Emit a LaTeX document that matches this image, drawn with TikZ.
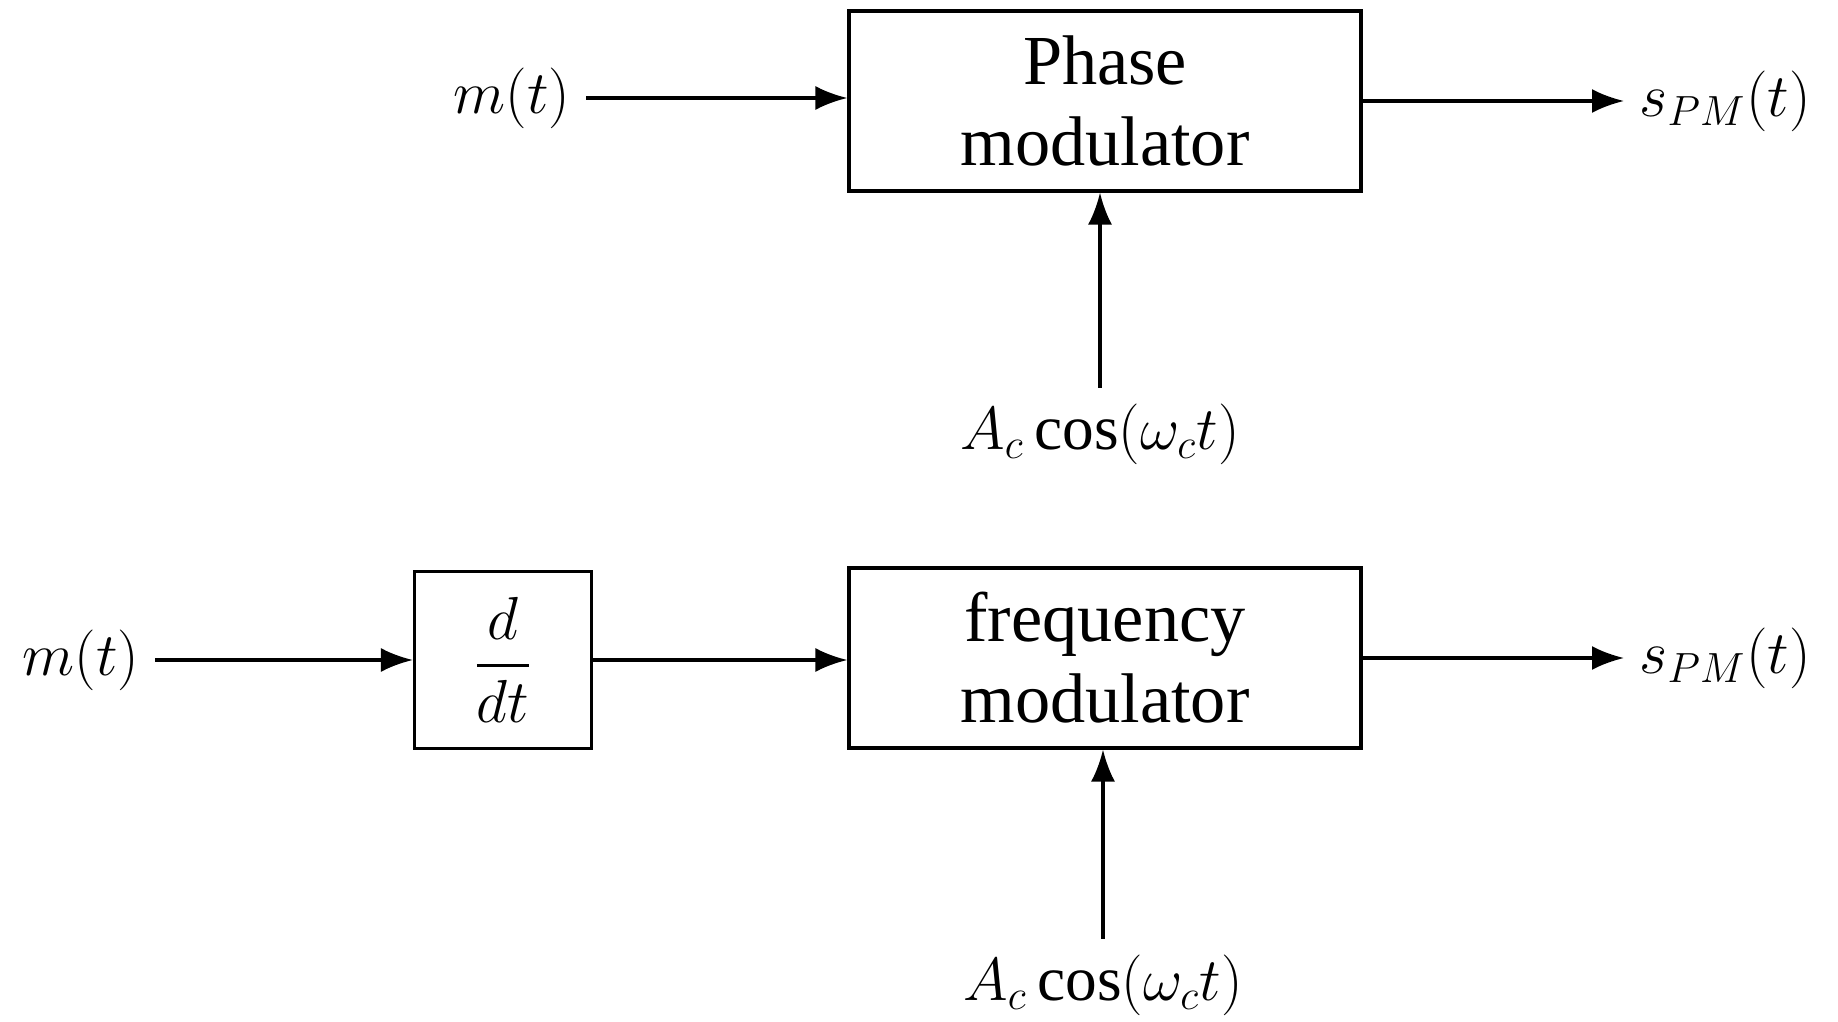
\documentclass[tikz,border=0pt]{standalone}
\usepackage{amsmath}
\usepackage{fontspec}
\setmainfont{Liberation Serif}
\usetikzlibrary{arrows.meta, positioning}

\begin{document}
\begin{tikzpicture}[
        modBlock/.style={
            rectangle, draw=black, line width=0.9pt,
            minimum width=5.12cm, minimum height=1.8cm, align=center,
            font=\fontsize{20}{23}\selectfont
        },
        diffBlock/.style={
            rectangle, draw=black, line width=0.9pt,
            minimum width=1.77cm, minimum height=1.77cm,
            font=\fontsize{19}{22}\selectfont
        },
        sigLabel/.style={
            inner sep=1.5mm, font=\fontsize{18}{21}\selectfont
        },
        arrow/.style={
            line width=0.9pt, -{Latex[length=3.2mm, width=2.4mm]}
        }
    ]
        \useasboundingbox (0,0) rectangle (18.38,-10.22);

        % Upper chain: phase modulator
        \node (pm) [modBlock] at (11.05,-1.01) {Phase\\modulator};
        \node (pmIn) [sigLabel, anchor=east] at (5.86,-0.98) {$m(t)$};
        \node (pmOut) [sigLabel, anchor=west] at (16.24,-1.01) {$s_{PM}(t)$};
        \node (pmCar) [sigLabel] at (11.0,-4.34) {$A_c\cos(\omega_c t)$};

        % Lower chain: differentiator and frequency modulator
        \node (fm) [modBlock] at (11.05,-6.58) {frequency\\modulator};
        \node (diff) [diffBlock] at (5.03,-6.60) {$\displaystyle\frac{d}{dt}$};
        \node (fmIn) [sigLabel, anchor=east] at (1.55,-6.60) {$m(t)$};
        \node (fmOut) [sigLabel, anchor=west] at (16.24,-6.58) {$s_{PM}(t)$};
        \node (fmCar) [sigLabel] at (11.03,-9.85) {$A_c\cos(\omega_c t)$};

        % Arrows
        \draw [arrow] (pmIn) -- (pmIn -| pm.west);
        \draw [arrow] (pm.east) -- (pmOut);
        \draw [arrow] (pmCar) -- (pmCar |- pm.south);
        \draw [arrow] (fmIn) -- (diff);
        \draw [arrow] (diff) -- (diff -| fm.west);
        \draw [arrow] (fm.east) -- (fmOut);
        \draw [arrow] (fmCar) -- (fmCar |- fm.south);
    \end{tikzpicture}
\end{document}
